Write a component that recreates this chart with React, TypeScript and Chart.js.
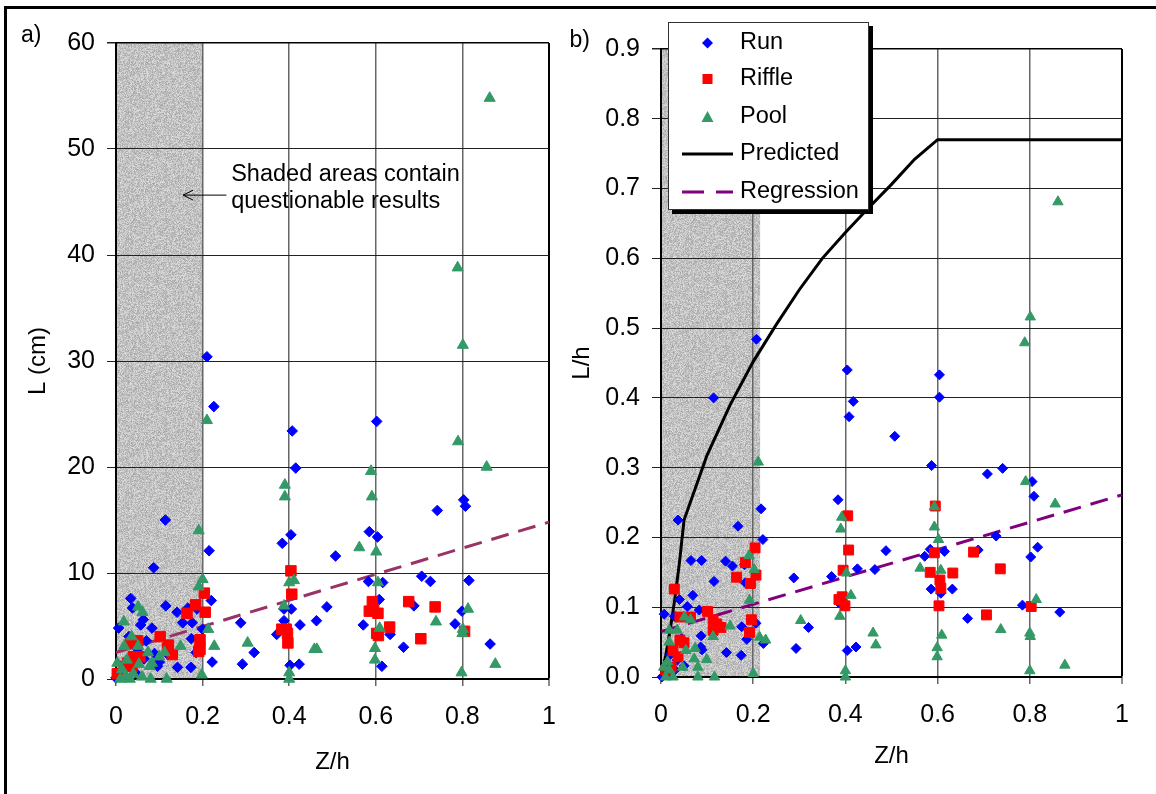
import { useEffect, useRef } from 'react';
import { Chart, registerables } from 'chart.js';

Chart.register(...registerables);

type Pt = [number, number];

const FONT_FAMILY = '"Liberation Sans", Arial, Helvetica, sans-serif';
const BLUE = '#0000ff';
const RED = '#ff0000';
const GREEN = '#339966';
const REG_A_COLOR = '#993366';
const REG_B_COLOR = '#800080';

// Axis ticks
const xTicks = [0, 0.2, 0.4, 0.6, 0.8, 1];
const yTicksL = [0, 10, 20, 30, 40, 50, 60];
const yTicksRel = [0, 0.1, 0.2, 0.3, 0.4, 0.5, 0.6, 0.7, 0.8, 0.9];

// Z/h range of questionable results (shaded)
const shadeA: Pt = [0, 0.2];
const shadeB: Pt = [0, 0.215];

// ---------- a) L (cm) vs Z/h ----------
const runA: Pt[] = [
  [0.21, 30.4], [0.226, 25.7], [0.215, 12.1], [0.114, 15.0], [0.087, 10.5], [0.034, 7.6], [0.038, 6.7],
  [0.006, 4.8], [0.057, 5.1], [0.063, 5.6], [0.115, 6.9], [0.083, 4.8], [0.07, 3.6], [0.141, 6.3],
  [0.154, 5.3], [0.176, 5.3], [0.174, 3.8], [0.187, 6.6], [0.22, 7.4], [0.2, 4.7], [0.185, 2.5],
  [0.173, 1.1], [0.142, 1.1], [0.096, 1.2], [0.222, 1.6], [0.292, 1.4], [0.319, 2.5], [0.288, 5.3],
  [0.371, 4.2], [0.388, 5.5], [0.388, 6.6], [0.384, 12.8], [0.404, 13.6], [0.407, 23.4], [0.415, 19.9],
  [0.405, 6.6], [0.425, 5.1], [0.402, 1.3], [0.423, 1.4], [0.463, 5.5], [0.487, 6.8], [0.507, 11.6],
  [0.571, 5.1], [0.583, 9.2], [0.585, 13.9], [0.602, 24.3], [0.604, 13.4], [0.616, 9.1], [0.608, 7.5],
  [0.633, 4.2], [0.614, 1.2], [0.664, 3.0], [0.688, 6.9], [0.706, 9.7], [0.726, 9.2], [0.742, 15.9],
  [0.783, 5.2], [0.799, 6.4], [0.803, 16.9], [0.807, 16.3], [0.815, 9.3], [0.864, 3.3],
  [0.166, 6.7], [0.03, 4.0], [0.089, 2.4], [0.05, 2.8], [0.1, 1.6], [0.02, 1.2], [0.045, 0.6],
  [0.065, 1.9], [0.12, 2.3], [0.0, 0.1],
];
const riffleA: Pt[] = [
  [0.204, 8.1], [0.184, 7.0], [0.164, 6.2], [0.206, 6.3], [0.194, 3.7], [0.191, 2.6], [0.194, 2.8],
  [0.102, 4.0], [0.121, 3.2], [0.119, 2.9], [0.13, 2.3], [0.05, 3.6], [0.034, 3.4], [0.04, 2.1],
  [0.027, 1.5], [0.019, 1.2], [0.003, 0.5], [0.055, 2.1], [0.037, 1.2], [0.404, 10.2], [0.406, 8.0],
  [0.383, 4.7], [0.393, 4.7], [0.396, 4.3], [0.397, 3.4], [0.592, 7.3], [0.585, 6.4], [0.595, 6.5],
  [0.605, 6.2], [0.602, 4.3], [0.606, 4.1], [0.632, 4.9], [0.676, 7.3], [0.737, 6.8], [0.704, 3.8],
  [0.805, 4.5],
];
const poolA: Pt[] = [
  [0.863, 54.8], [0.789, 38.8], [0.801, 31.5], [0.79, 22.4], [0.856, 20.0], [0.589, 19.6], [0.591, 17.2],
  [0.39, 18.3], [0.39, 17.2], [0.562, 12.4], [0.601, 12.0], [0.605, 9.1], [0.4, 9.1], [0.411, 9.3],
  [0.388, 6.9], [0.21, 24.4], [0.191, 14.0], [0.2, 9.4], [0.191, 8.7], [0.213, 4.7], [0.227, 3.1],
  [0.304, 3.4], [0.149, 3.1], [0.051, 6.8], [0.061, 6.3], [0.018, 5.4], [0.036, 4.0], [0.051, 3.1],
  [0.019, 3.1], [0.074, 2.5], [0.1, 2.1], [0.112, 2.5], [0.078, 1.2], [0.083, 1.5], [0.053, 1.4],
  [0.014, 0.9], [0.003, 1.5], [0.08, 0.0], [0.117, 0.0], [0.032, 0.0], [0.01, 0.0], [0.023, 0.3],
  [0.198, 0.4], [0.4, 0.6], [0.4, 0.0], [0.458, 2.8], [0.464, 2.8], [0.598, 1.8], [0.598, 2.9],
  [0.609, 4.8], [0.739, 5.4], [0.8, 4.3], [0.801, 4.7], [0.798, 0.6], [0.813, 6.6], [0.876, 1.4],
  [0.04, 0.5], [0.06, 0.2], [0.025, 1.8],
];
const regressionA: Pt[] = [[0, 2.5], [1, 14.8]];

// ---------- b) L/h vs Z/h ----------
const runB: Pt[] = [
  [0.207, 0.484], [0.404, 0.44], [0.604, 0.433], [0.604, 0.401], [0.114, 0.4], [0.417, 0.395], [0.408, 0.373],
  [0.507, 0.345], [0.587, 0.303], [0.708, 0.291], [0.741, 0.299], [0.805, 0.28], [0.809, 0.259], [0.384, 0.254],
  [0.217, 0.241], [0.037, 0.225], [0.167, 0.216], [0.221, 0.197], [0.727, 0.202], [0.488, 0.181], [0.584, 0.183],
  [0.615, 0.18], [0.688, 0.182], [0.802, 0.172], [0.817, 0.186], [0.572, 0.173], [0.065, 0.167], [0.088, 0.167],
  [0.14, 0.166], [0.155, 0.159], [0.181, 0.161], [0.288, 0.142], [0.37, 0.144], [0.426, 0.155], [0.464, 0.154],
  [0.115, 0.137], [0.183, 0.135], [0.586, 0.126], [0.632, 0.126], [0.607, 0.12], [0.386, 0.106], [0.784, 0.103],
  [0.865, 0.093], [0.665, 0.084], [0.069, 0.117], [0.04, 0.111], [0.057, 0.101], [0.083, 0.096], [0.007, 0.09],
  [0.029, 0.087], [0.32, 0.071], [0.293, 0.041], [0.404, 0.038], [0.423, 0.043], [0.142, 0.035], [0.174, 0.031],
  [0.206, 0.077], [0.175, 0.072], [0.186, 0.054], [0.222, 0.048], [0.087, 0.059], [0.086, 0.043], [0.089, 0.039],
  [0.035, 0.024], [0.018, 0.005], [0.002, 0.0], [0.03, 0.01], [0.05, 0.016], [0.02, 0.032], [0.045, 0.055],
  [0.398, 0.105],
];
const riffleB: Pt[] = [
  [0.595, 0.245], [0.405, 0.231], [0.407, 0.182], [0.593, 0.178], [0.678, 0.179], [0.736, 0.155], [0.633, 0.149],
  [0.584, 0.15], [0.395, 0.153], [0.605, 0.139], [0.607, 0.127], [0.603, 0.102], [0.706, 0.089], [0.803, 0.101],
  [0.393, 0.115], [0.386, 0.111], [0.399, 0.102], [0.204, 0.185], [0.183, 0.164], [0.164, 0.143], [0.206, 0.146],
  [0.194, 0.134], [0.196, 0.082], [0.192, 0.064], [0.101, 0.094], [0.029, 0.126], [0.041, 0.086], [0.064, 0.086],
  [0.113, 0.082], [0.121, 0.076], [0.13, 0.071], [0.113, 0.067], [0.041, 0.053], [0.05, 0.049], [0.026, 0.038],
  [0.037, 0.029], [0.01, 0.01], [0.022, 0.014],
];
const poolB: Pt[] = [
  [0.861, 0.681], [0.801, 0.516], [0.789, 0.479], [0.211, 0.308], [0.791, 0.28], [0.855, 0.248], [0.593, 0.244],
  [0.392, 0.229], [0.39, 0.212], [0.593, 0.215], [0.602, 0.197], [0.191, 0.174], [0.202, 0.154], [0.562, 0.156],
  [0.607, 0.153], [0.402, 0.149], [0.412, 0.117], [0.192, 0.11], [0.814, 0.111], [0.388, 0.087], [0.303, 0.081],
  [0.15, 0.073], [0.46, 0.063], [0.466, 0.046], [0.737, 0.068], [0.609, 0.06], [0.8, 0.063], [0.801, 0.058],
  [0.599, 0.042], [0.599, 0.029], [0.8, 0.009], [0.876, 0.017], [0.4, 0.009], [0.4, 0.0], [0.2, 0.005],
  [0.214, 0.057], [0.227, 0.053], [0.113, 0.058], [0.064, 0.082], [0.051, 0.086], [0.018, 0.067], [0.035, 0.067],
  [0.018, 0.05], [0.054, 0.038], [0.074, 0.041], [0.099, 0.025], [0.072, 0.026], [0.047, 0.014], [0.08, 0.0],
  [0.116, 0.0], [0.006, 0.014], [0.014, 0.022], [0.018, 0.01], [0.026, 0.0], [0.01, 0.0], [0.08, 0.014],
];
const predictedZ = [0, 0.01, 0.02, 0.03, 0.04, 0.05, 0.1, 0.15, 0.2, 0.25, 0.3, 0.35, 0.4, 0.45, 0.5, 0.55, 0.6, 1];
const predictedLh = [0, 0.03, 0.068, 0.112, 0.164, 0.225, 0.318, 0.39, 0.452, 0.505, 0.555, 0.6, 0.637, 0.672, 0.706, 0.742, 0.77, 0.77];
const regressionB: Pt[] = [[0, 0.065], [1, 0.261]];

const toXY = (pts: Pt[]) => pts.map(([x, y]) => ({ x, y }));

// Fine-grained light-gray fill used for the shaded strip
function grainPattern(ctx: CanvasRenderingContext2D): CanvasPattern | string {
  const size = 127;
  const c = document.createElement('canvas');
  c.width = size;
  c.height = size;
  const g = c.getContext('2d');
  if (!g) return '#d0d0d0';
  const img = g.createImageData(size, size);
  for (let i = 0; i < size * size; i++) {
    let h = Math.imul(i + 7, 2654435761) >>> 0;
    h ^= h >>> 15;
    h = Math.imul(h, 2246822519) >>> 0;
    h ^= h >>> 13;
    h = Math.imul(h, 3266489917) >>> 0;
    h ^= h >>> 16;
    const v = 194 + (h % 28);
    img.data[i * 4] = v;
    img.data[i * 4 + 1] = v;
    img.data[i * 4 + 2] = v;
    img.data[i * 4 + 3] = 255;
  }
  g.putImageData(img, 0, 0);
  return ctx.createPattern(c, 'repeat') || '#d0d0d0';
}

const shadePlugin = (range: Pt) => ({
  id: 'shadeStrip',
  beforeDraw(chart: any) {
    const { ctx, chartArea, scales } = chart;
    const x0 = scales.x.getPixelForValue(range[0]);
    const x1 = scales.x.getPixelForValue(range[1]);
    ctx.save();
    ctx.fillStyle = grainPattern(ctx);
    ctx.fillRect(x0, chartArea.top, x1 - x0, chartArea.bottom - chartArea.top);
    ctx.restore();
  },
});

const panelLabel = (text: string, x: number, y: number) => ({
  id: 'panelLabel',
  afterDraw(chart: any) {
    const ctx = chart.ctx;
    ctx.save();
    ctx.font = `23px ${FONT_FAMILY}`;
    ctx.fillStyle = '#000';
    ctx.textBaseline = 'alphabetic';
    ctx.textAlign = 'left';
    ctx.fillText(text, x, y);
    ctx.restore();
  },
});

const notePlugin = {
  id: 'shadeNote',
  afterDraw(chart: any) {
    const { ctx, scales } = chart;
    const tx = scales.x.getPixelForValue(0.266);
    const y1 = scales.y.getPixelForValue(47);
    const y2 = scales.y.getPixelForValue(44.4);
    const ya = scales.y.getPixelForValue(45.65);
    const ax0 = scales.x.getPixelForValue(0.255);
    const ax1 = scales.x.getPixelForValue(0.155);
    ctx.save();
    ctx.font = `23.5px ${FONT_FAMILY}`;
    ctx.fillStyle = '#000';
    ctx.textBaseline = 'alphabetic';
    ctx.fillText('Shaded areas contain', tx, y1);
    ctx.fillText('questionable results', tx, y2);
    ctx.strokeStyle = '#000';
    ctx.lineWidth = 1;
    ctx.beginPath();
    ctx.moveTo(ax0, ya);
    ctx.lineTo(ax1, ya);
    ctx.moveTo(ax1 + 10, ya - 5);
    ctx.lineTo(ax1, ya);
    ctx.lineTo(ax1 + 10, ya + 5);
    ctx.stroke();
    ctx.restore();
  },
};

const boxLegend = {
  id: 'boxLegend',
  afterDraw(chart: any) {
    const ctx = chart.ctx;
    const L = 108, T = 22, R = 309, B = 210;
    const mx = 147.5, tx = 180;
    ctx.save();
    ctx.fillStyle = '#000';
    ctx.fillRect(L + 4, T + 4, R - L, B - T);
    ctx.fillStyle = '#fff';
    ctx.fillRect(L, T, R - L, B - T);
    ctx.strokeStyle = '#333';
    ctx.lineWidth = 1;
    ctx.strokeRect(L + 0.5, T + 0.5, R - L - 1, B - T - 1);

    // Run
    ctx.fillStyle = BLUE;
    ctx.beginPath();
    ctx.moveTo(mx, 43 - 5.5); ctx.lineTo(mx + 5.5, 43); ctx.lineTo(mx, 43 + 5.5); ctx.lineTo(mx - 5.5, 43);
    ctx.closePath(); ctx.fill();
    // Riffle
    ctx.fillStyle = RED;
    ctx.fillRect(mx - 5, 79 - 5, 10, 10);
    // Pool
    ctx.fillStyle = GREEN;
    ctx.beginPath();
    ctx.moveTo(mx, 117 - 6); ctx.lineTo(mx + 6, 117 + 5); ctx.lineTo(mx - 6, 117 + 5);
    ctx.closePath(); ctx.fill();
    // Predicted
    ctx.strokeStyle = '#000';
    ctx.lineWidth = 3;
    ctx.beginPath(); ctx.moveTo(122, 154); ctx.lineTo(173, 154); ctx.stroke();
    // Regression
    ctx.strokeStyle = REG_B_COLOR;
    ctx.setLineDash([22, 12]);
    ctx.beginPath(); ctx.moveTo(122, 192); ctx.lineTo(173, 192); ctx.stroke();
    ctx.setLineDash([]);

    ctx.fillStyle = '#000';
    ctx.font = `23.5px ${FONT_FAMILY}`;
    ctx.textBaseline = 'middle';
    ctx.textAlign = 'left';
    ctx.fillText('Run', tx, 43);
    ctx.fillText('Riffle', tx, 79);
    ctx.fillText('Pool', tx, 117);
    ctx.fillText('Predicted', tx, 154);
    ctx.fillText('Regression', tx, 192);
    ctx.restore();
  },
};

const tickFont = { family: FONT_FAMILY, size: 25 };
const titleFont = { family: FONT_FAMILY, size: 24 };

function makeScales(opts: {
  yTicks: number[];
  yMax: number;
  yFmt: (v: number) => string;
  yTitle: string;
  yWidth: number;
  yTitlePad: number;
  xTitlePad: number;
}) {
  return {
    x: {
      type: 'linear',
      min: 0,
      max: 1,
      afterBuildTicks: (s: any) => { s.ticks = xTicks.map((value) => ({ value })); },
      afterFit: (s: any) => { s.height = 110; },
      ticks: { font: tickFont, color: '#000', padding: 16, maxRotation: 0, autoSkip: false, callback: (v: any) => String(v) },
      grid: {
        color: (c: any) => (c.tick && c.tick.value === 1 ? '#000' : '#666'),
        lineWidth: (c: any) => (c.tick && c.tick.value === 1 ? 2 : 1.5),
        tickLength: 7,
        tickColor: '#666',
        tickWidth: 1.5,
      },
      border: { color: '#000', width: 2 },
      title: { display: true, text: 'Z/h', font: titleFont, color: '#000', padding: { top: 0, bottom: opts.xTitlePad } },
    },
    y: {
      type: 'linear',
      min: 0,
      max: opts.yMax,
      afterBuildTicks: (s: any) => { s.ticks = opts.yTicks.map((value) => ({ value })); },
      afterFit: (s: any) => { s.width = opts.yWidth; },
      ticks: { font: tickFont, color: '#000', padding: 12, autoSkip: false, callback: (v: any) => opts.yFmt(Number(v)) },
      grid: {
        color: (c: any) => (c.tick && c.tick.value === opts.yMax ? '#000' : '#222'),
        lineWidth: (c: any) => (c.tick && c.tick.value === opts.yMax ? 1.5 : 1),
        tickLength: 9,
        tickColor: '#222',
      },
      border: { color: '#000', width: 2 },
      title: { display: true, text: opts.yTitle, font: titleFont, color: '#000', padding: { top: opts.yTitlePad, bottom: 0 } },
    },
  };
}

function markerSet(label: string, pts: Pt[], style: string, color: string, radius: number, order: number) {
  return {
    label,
    data: toXY(pts),
    pointStyle: style,
    pointRadius: radius,
    pointBackgroundColor: color,
    pointBorderColor: color,
    pointBorderWidth: 1,
    showLine: false,
    clip: false,
    order,
  };
}

function lineSet(label: string, pts: { x: number; y: number }[], color: string, dash: number[], order: number) {
  return {
    label,
    data: pts,
    showLine: true,
    borderColor: color,
    borderWidth: 3,
    borderDash: dash,
    pointRadius: 0,
    fill: false,
    tension: 0,
    clip: false,
    order,
  };
}

const baseOptions = {
  animation: false,
  responsive: false,
  devicePixelRatio: 1,
  events: [],
  plugins: { legend: { display: false }, tooltip: { enabled: false } },
};

export default function App() {
  const refA = useRef<HTMLCanvasElement>(null);
  const refB = useRef<HTMLCanvasElement>(null);

  useEffect(() => {
    if (!refA.current || !refB.current) return;

    const chartA = new Chart(refA.current, {
      type: 'scatter',
      data: {
        datasets: [
          markerSet('Pool', poolA, 'triangle', GREEN, 6.4, 0),
          markerSet('Riffle', riffleA, 'rect', RED, 7.4, 1),
          markerSet('Run', runA, 'rectRot', BLUE, 5.3, 2),
          lineSet('Regression', toXY(regressionA), REG_A_COLOR, [18, 10], 3),
        ],
      },
      options: {
        ...baseOptions,
        layout: { padding: { left: 0, top: 43, right: 31, bottom: 5 } },
        scales: makeScales({
          yTicks: yTicksL,
          yMax: 60,
          yFmt: (v) => String(v),
          yTitle: 'L (cm)',
          yWidth: 116,
          yTitlePad: 24,
          xTitlePad: 12,
        }),
      } as any,
      plugins: [shadePlugin(shadeA), notePlugin, panelLabel('a)', 21, 41.5)],
    } as any);

    const chartB = new Chart(refB.current, {
      type: 'scatter',
      data: {
        datasets: [
          markerSet('Pool', poolB, 'triangle', GREEN, 6.0, 0),
          markerSet('Riffle', riffleB, 'rect', RED, 7.0, 1),
          markerSet('Run', runB, 'rectRot', BLUE, 5.0, 2),
          lineSet('Predicted', predictedZ.map((x, i) => ({ x, y: predictedLh[i] })), '#000', [], 3),
          lineSet('Regression', toXY(regressionB), REG_B_COLOR, [18, 10], 4),
        ],
      },
      options: {
        ...baseOptions,
        layout: { padding: { left: 0, top: 49, right: 34, bottom: 7 } },
        scales: makeScales({
          yTicks: yTicksRel,
          yMax: 0.9,
          yFmt: (v) => v.toFixed(1),
          yTitle: 'L/h',
          yWidth: 101,
          yTitlePad: 8,
          xTitlePad: 16,
        }),
      } as any,
      plugins: [shadePlugin(shadeB), boxLegend, panelLabel('b)', 9.5, 46.5)],
    } as any);

    return () => {
      chartA.destroy();
      chartB.destroy();
    };
  }, []);

  return (
    <div style={{ position: 'fixed', left: 0, top: 0, width: 1156, height: 794, background: '#fff', overflow: 'hidden' }}>
      <div
        style={{
          position: 'absolute', left: 4, top: 6, width: 1400, height: 1000,
          border: '3px solid #000', boxSizing: 'border-box',
        }}
      />
      <canvas ref={refA} width={580} height={794} style={{ position: 'absolute', left: 0, top: 0 }} />
      <canvas ref={refB} width={596} height={794} style={{ position: 'absolute', left: 560, top: 0 }} />
    </div>
  );
}
